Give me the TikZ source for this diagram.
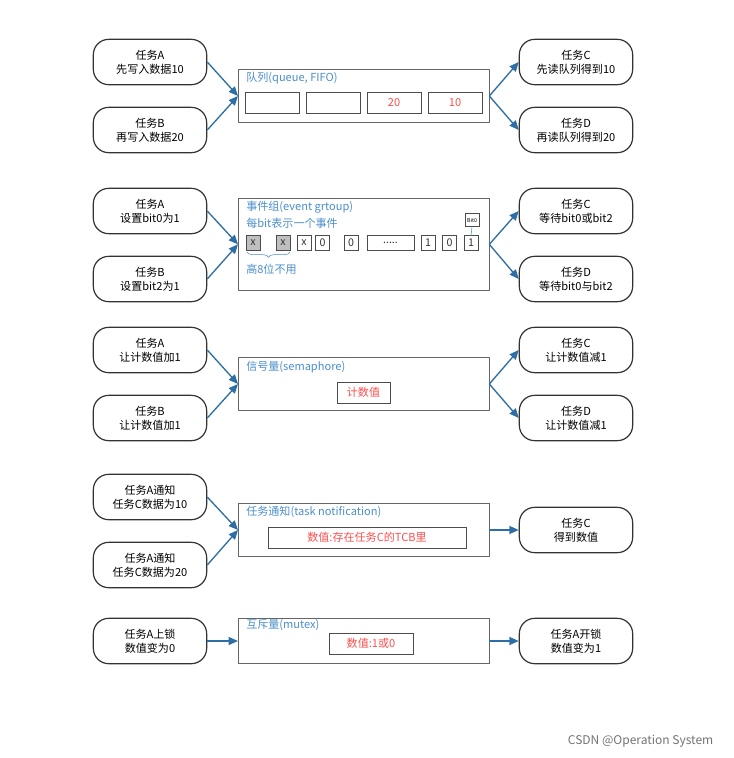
\documentclass[tikz,border=0pt]{standalone}
\usepackage{fontspec}
\setmainfont{Noto Sans CJK SC}
\usetikzlibrary{arrows.meta,decorations.pathreplacing}
\definecolor{ab}{HTML}{2E6EA6}
\definecolor{tb}{HTML}{4A8ECB}
\definecolor{rd}{HTML}{FF4D4D}
\tikzset{
  task/.style={draw=black!80,line width=0.9pt,rounded corners=11.5pt,minimum width=85pt,minimum height=34pt,align=center,font=\fontsize{8.3}{10.5}\selectfont,inner sep=1pt},
  bigbox/.style={draw=black!60,line width=0.5pt},
  cell/.style={draw=black!70,line width=0.5pt,font=\fontsize{8.3}{9}\selectfont,text=rd},
  bcell/.style={draw=black!70,line width=0.5pt,minimum width=10.5pt,minimum height=11pt,inner sep=0pt,font=\fontsize{8}{8}\selectfont,text=black!80},
  ttl/.style={anchor=west,text=tb,font=\fontsize{8.3}{9}\selectfont,inner sep=0pt},
  arr/.style={ab,line width=1pt,-{Triangle[length=7pt,width=6pt]}}
}
\begin{document}
\begin{tikzpicture}[x=0.75pt,y=-0.75pt]
\useasboundingbox (0,0) rectangle (734,758);
% row 1
\node[task] (a1) at (150,62) {任务A\\先写入数据10};
\node[task] (b1) at (150,130) {任务B\\再写入数据20};
\node[bigbox,minimum width=188pt,minimum height=40pt,anchor=north west] (q) at (238,69) {};
\node[ttl] at (246,78) {队列(queue, FIFO)};
\foreach \x/\t in {245/,306/,367/20,428/10}
  \draw[cell] (\x,92) rectangle node{\t} (\x+54,113);
\node[task] (c1) at (576,62) {任务C\\先读队列得到10};
\node[task] (d1) at (576,130) {任务D\\再读队列得到20};
\draw[arr] (a1.east) -- (q.west); \draw[arr] (b1.east) -- (q.west);
\draw[arr] (q.east) -- (c1.west); \draw[arr] (q.east) -- (d1.west);
% row 2
\node[task] (a2) at (150,211) {任务A\\设置bit0为1};
\node[task] (b2) at (150,279) {任务B\\设置bit2为1};
\node[bigbox,minimum width=188pt,minimum height=69pt,anchor=north west] (e) at (238,198) {};
\node[ttl] at (246,207) {事件组(event grtoup)};
\node[ttl] at (246,223) {每bit表示一个事件};
\node[bcell,fill=black!25] (x1) at (253,243) {x};
\node[bcell,fill=black!25] (x2) at (283,243) {x};
\foreach \x/\t in {304/x,322.5/0,351/0,428/1,449.5/0,471/1}
  \node[bcell] at (\x,243) {\t};
\node[bcell,minimum width=35pt] at (390.5,243) {.....};
\node[draw=black!70,fill=white,font=\fontsize{4}{5}\selectfont,inner sep=1.5pt,minimum height=10pt] (bt) at (472,220) {Bit0};
\draw[tb] (bt.south) -- (471,235.5);
\draw[tb,decorate,decoration={brace,mirror,amplitude=4pt}] (247,252) -- (290,252);
\node[ttl] at (246,269) {高8位不用};
\node[task] (c2) at (576,211) {任务C\\等待bit0或bit2};
\node[task] (d2) at (576,279) {任务D\\等待bit0与bit2};
\draw[arr] (a2.east) -- (e.west); \draw[arr] (b2.east) -- (e.west);
\draw[arr] (e.east) -- (c2.west); \draw[arr] (e.east) -- (d2.west);
% row 3
\node[task] (a3) at (150,350) {任务A\\让计数值加1};
\node[task] (b3) at (150,418) {任务B\\让计数值加1};
\node[bigbox,minimum width=188pt,minimum height=40pt,anchor=north west] (s) at (238,357) {};
\node[ttl] at (246,367) {信号量(semaphore)};
\draw[cell] (337,382) rectangle node{计数值} (390,403);
\node[task] (c3) at (576,350) {任务C\\让计数值减1};
\node[task] (d3) at (576,418) {任务D\\让计数值减1};
\draw[arr] (a3.east) -- (s.west); \draw[arr] (b3.east) -- (s.west);
\draw[arr] (s.east) -- (c3.west); \draw[arr] (s.east) -- (d3.west);
% row 4
\node[task] (a4) at (150,497) {任务A通知\\任务C数据为10};
\node[task] (b4) at (150,565) {任务A通知\\任务C数据为20};
\node[bigbox,minimum width=188pt,minimum height=40pt,anchor=north west] (n) at (238,503) {};
\node[ttl] at (246,512) {任务通知(task notification)};
\draw[cell] (268,527) rectangle node{数值:存在任务C的TCB里} (466,548);
\node[task] (c4) at (576,530) {任务C\\得到数值};
\draw[arr] (a4.east) -- (n.west); \draw[arr] (b4.east) -- (n.west);
\draw[arr] (n.east) -- (c4.west);
% row 5
\node[task] (a5) at (150,641) {任务A上锁\\数值变为0};
\node[bigbox,minimum width=188pt,minimum height=34pt,anchor=north west] (m) at (238,618) {};
\node[ttl] at (246,625) {互斥量(mutex)};
\draw[cell] (329,633) rectangle node{数值:1或0} (413,654);
\node[task] (c5) at (576,641) {任务A开锁\\数值变为1};
\draw[arr] (a5.east) -- (m.west);
\draw[arr] (m.east) -- (c5.west);
\node[text=black!55,font=\fontsize{9}{10}\selectfont,anchor=east] (wm) at (718,741) {CSDN @Operation System};
\end{tikzpicture}
\end{document}
